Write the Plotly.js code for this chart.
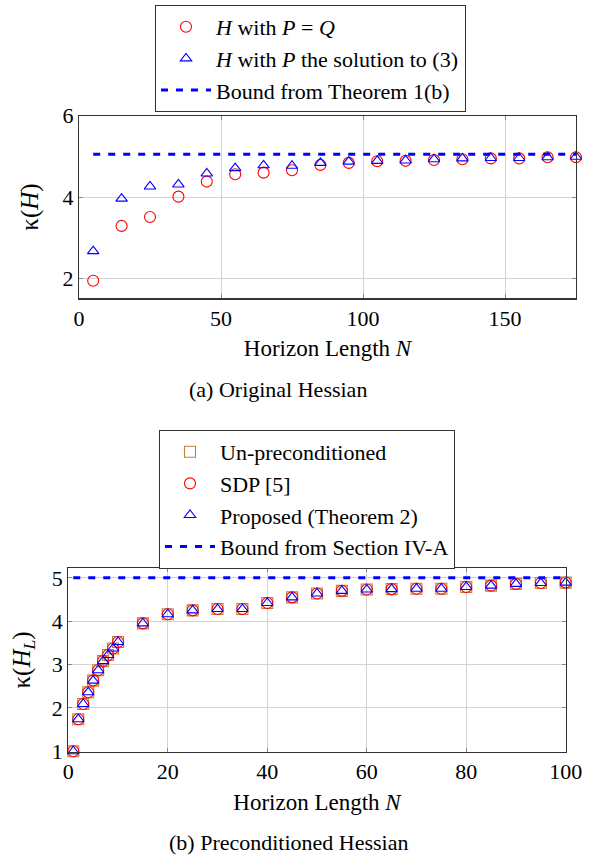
<!DOCTYPE html>
<html>
<head>
<meta charset="utf-8">
<script src="https://cdn.plot.ly/plotly-3.0.1.min.js"></script>
<style>html,body{margin:0;padding:0;background:#fff;}#chart{width:601px;height:855px;}</style>
</head>
<body>
<div id="chart"></div>
<script>
// (a) Original Hessian
const topN = [5, 15, 25, 35, 45, 55, 65, 75, 85, 95, 105, 115, 125, 135, 145, 155, 165, 175];
const topPQ = [1.94, 3.29, 3.51, 4.01, 4.38, 4.56, 4.60, 4.66, 4.79, 4.84, 4.88, 4.89, 4.91, 4.93, 4.95, 4.95, 4.98, 4.98];
const topPsol = [2.67, 3.96, 4.26, 4.31, 4.58, 4.71, 4.78, 4.77, 4.84, 4.87, 4.89, 4.90, 4.93, 4.95, 4.96, 4.96, 4.98, 4.99];
const topBoundN = [5, 175];
const topBound = [5.05, 5.05];
const topXTicks = [0, 50, 100, 150];
const topYTicks = [2, 4, 6];

// (b) Preconditioned Hessian
const botN = [1, 2, 3, 4, 5, 6, 7, 8, 9, 10, 15, 20, 25, 30, 35, 40, 45, 50, 55, 60, 65, 70, 75, 80, 85, 90, 95, 100];
const botUnpre = [1.00, 1.74, 2.09, 2.36, 2.63, 2.87, 3.08, 3.22, 3.37, 3.52, 3.95, 4.16, 4.25, 4.28, 4.28, 4.42, 4.55, 4.64, 4.70, 4.73, 4.74, 4.75, 4.75, 4.79, 4.82, 4.86, 4.88, 4.89];
const botSDP = [1.00, 1.74, 2.09, 2.36, 2.63, 2.87, 3.08, 3.22, 3.37, 3.52, 3.95, 4.16, 4.25, 4.28, 4.28, 4.42, 4.55, 4.64, 4.70, 4.73, 4.74, 4.75, 4.75, 4.79, 4.82, 4.86, 4.88, 4.89];
const botProp = [1.00, 1.74, 2.09, 2.36, 2.63, 2.87, 3.08, 3.22, 3.37, 3.52, 3.95, 4.16, 4.25, 4.28, 4.28, 4.42, 4.55, 4.64, 4.70, 4.73, 4.74, 4.75, 4.75, 4.79, 4.82, 4.86, 4.88, 4.89];
const botBoundN = [1, 100];
const botBound = [5.0, 5.0];
const botXTicks = [0, 20, 40, 60, 80, 100];
const botYTicks = [1, 2, 3, 4, 5];

const SERIF = '"Liberation Serif", "Times New Roman", serif';
const RED = '#ff0000', BLUE = '#0000ff', BROWN = '#bf8040';

const traces = [
  {x: topN, y: topPQ, type: 'scatter', mode: 'markers', name: '<i>H</i> with <i>P</i> = <i>Q</i>',
   marker: {symbol: 'circle-open', size: 11, color: RED, line: {width: 1.1}}, xaxis: 'x', yaxis: 'y', legend: 'legend', cliponaxis: false},
  {x: topN, y: topPsol, type: 'scatter', mode: 'markers', name: '<i>H</i> with <i>P</i> the solution to (3)',
   marker: {symbol: 'triangle-up-open', size: 10, color: BLUE, line: {width: 1.1}}, xaxis: 'x', yaxis: 'y', legend: 'legend', cliponaxis: false},
  {x: topBoundN, y: topBound, type: 'scatter', mode: 'lines', name: 'Bound from Theorem 1(b)',
   line: {color: BLUE, width: 3, dash: '7px,8px'}, xaxis: 'x', yaxis: 'y', legend: 'legend', cliponaxis: false},

  {x: botN, y: botUnpre, type: 'scatter', mode: 'markers', name: 'Un-preconditioned',
   marker: {symbol: 'square-open', size: 11, color: BROWN, line: {width: 1.1}}, xaxis: 'x2', yaxis: 'y2', legend: 'legend2', cliponaxis: false},
  {x: botN, y: botSDP, type: 'scatter', mode: 'markers', name: 'SDP [5]',
   marker: {symbol: 'circle-open', size: 11, color: RED, line: {width: 1.1}}, xaxis: 'x2', yaxis: 'y2', legend: 'legend2', cliponaxis: false},
  {x: botN, y: botProp, type: 'scatter', mode: 'markers', name: 'Proposed (Theorem 2)',
   marker: {symbol: 'triangle-up-open', size: 10, color: BLUE, line: {width: 1.1}}, xaxis: 'x2', yaxis: 'y2', legend: 'legend2', cliponaxis: false},
  {x: botBoundN, y: botBound, type: 'scatter', mode: 'lines', name: 'Bound from Section IV-A',
   line: {color: BLUE, width: 3, dash: '7px,8px'}, xaxis: 'x2', yaxis: 'y2', legend: 'legend2', cliponaxis: false}
];

const axisCommon = {
  showline: true, linecolor: '#333333', linewidth: 1.2, mirror: 'allticks',
  ticks: 'inside', ticklen: 4, tickcolor: '#888888', tickwidth: 1,
  showgrid: true, gridcolor: '#d3d3d3', gridwidth: 1, zeroline: false,
  tickfont: {family: SERIF, size: 22, color: '#000'}
};

const layout = {
  width: 601, height: 855,
  margin: {l: 0, r: 0, t: 0, b: 0},
  paper_bgcolor: '#fff', plot_bgcolor: '#fff',
  font: {family: SERIF, color: '#000'},
  showlegend: true,
  xaxis: Object.assign({}, axisCommon, {
    domain: [79/601, 576/601], anchor: 'y', range: [0, 175], tickvals: topXTicks,
    title: {text: 'Horizon Length <i>N</i>', font: {family: SERIF, size: 23}, standoff: 10}
  }),
  yaxis: Object.assign({}, axisCommon, {
    domain: [1 - 298.3/855, 1 - 115.7/855], anchor: 'x', range: [1.51, 6], tickvals: topYTicks,
    title: {text: 'κ(<i>H</i>)', font: {family: SERIF, size: 25}, standoff: 16}
  }),
  xaxis2: Object.assign({}, axisCommon, {
    domain: [68.3/601, 565.7/601], anchor: 'y2', range: [0, 100], tickvals: botXTicks,
    title: {text: 'Horizon Length <i>N</i>', font: {family: SERIF, size: 23}, standoff: 10}
  }),
  yaxis2: Object.assign({}, axisCommon, {
    domain: [1 - 751.7/855, 1 - 568.3/855], anchor: 'x2', range: [0.99, 5.22], tickvals: botYTicks,
    title: {text: 'κ(<i>H</i><sub><i>L</i></sub>)', font: {family: SERIF, size: 25}, standoff: 14}
  }),
  legend: {
    x: 155/601, y: 1 - 5/855, xanchor: 'left', yanchor: 'top',
    bgcolor: '#fff', bordercolor: '#333333', borderwidth: 1, itemwidth: 50,
    font: {family: SERIF, size: 22, color: '#000'}, tracegroupgap: 0
  },
  legend2: {
    x: 159/601, y: 1 - 430/855, xanchor: 'left', yanchor: 'top',
    bgcolor: '#fff', bordercolor: '#333333', borderwidth: 1, itemwidth: 50,
    font: {family: SERIF, size: 22, color: '#000'}, tracegroupgap: 0
  },
  annotations: [
    {text: '(a) Original Hessian', x: 278/601, y: 1 - 389/855, xref: 'paper', yref: 'paper',
     xanchor: 'center', yanchor: 'middle', showarrow: false, font: {family: SERIF, size: 22, color: '#000'}},
    {text: '(b) Preconditioned Hessian', x: 289/601, y: 1 - 842/855, xref: 'paper', yref: 'paper',
     xanchor: 'center', yanchor: 'middle', showarrow: false, font: {family: SERIF, size: 22, color: '#000'}}
  ]
};

Plotly.newPlot('chart', traces, layout, {displayModeBar: false, staticPlot: true});
</script>
</body>
</html>
